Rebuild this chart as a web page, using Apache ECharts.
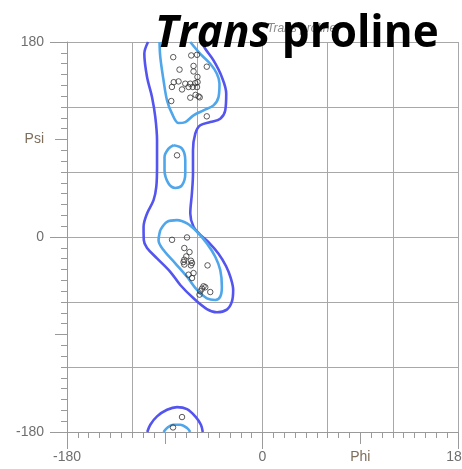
<!DOCTYPE html>
<html>
<head>
<meta charset="utf-8">
<script src="https://cdn.jsdelivr.net/npm/echarts@6/dist/echarts.min.js"></script>
<style>
  html, body { margin: 0; padding: 0; background: #fff; }
  #chart { width: 462px; height: 469px; }
</style>
</head>
<body>
<div id="chart"></div>
<script>
// Ramachandran plot for trans proline: observed (phi, psi) pairs and density contours

// Tick values carrying labels (other ticks are unlabeled minor ticks every 10 degrees)
var labeledTicks = [-180, -90, 0, 90, 180];
var phiTickLabels = ['-180', '', '0', 'Phi', '180'];
var psiTickLabels = ['-180', '', '0', 'Psi', '180'];

// Observed residues, [phi, psi] in degrees
var residues = [
  [-82.2, 166.0], [-65.6, 167.6], [-60.3, 168.2], [-63.5, 157.9], [-76.4, 154.5],
  [-63.5, 152.8], [-51.3, 157.2], [-59.9, 147.8], [-77.3, 143.6], [-81.7, 142.9],
  [-83.4, 138.5], [-74.1, 136.2], [-71.1, 141.5], [-66.5, 141.5], [-61.9, 142.0],
  [-59.8, 143.0], [-60.3, 138.4], [-68.1, 138.5], [-64.2, 138.5], [-66.5, 128.6],
  [-61.6, 131.2], [-58.9, 129.8], [-57.8, 128.9], [-84.0, 125.5], [-51.3, 111.4],
  [-78.7, 75.4],
  [-83.3, -2.6], [-69.5, -0.4], [-72.0, -10.2], [-67.2, -13.9], [-70.2, -17.9],
  [-72.0, -21.0], [-72.7, -23.1], [-72.0, -25.4], [-65.9, -21.9], [-64.9, -24.0],
  [-65.9, -26.2], [-50.6, -26.2], [-68.1, -34.8], [-63.5, -33.3], [-64.9, -37.9],
  [-52.7, -46.4], [-54.3, -45.5], [-55.7, -47.7], [-57.3, -50.1], [-58.0, -53.2],
  [-48.1, -50.8],
  [-74.1, -166.2], [-82.4, -175.8]
];

// Outer (allowed) contour: long band from psi = 180 down into the alpha region
var outerMain = [
  [-105.4, 180], [-108.8, 169.1], [-106.3, 147.6], [-101.7, 129.1], [-98.7, 110.7],
  [-97.1, 89.3], [-97.1, 64.7], [-97.8, 46.2], [-100.3, 34.0], [-106.3, 21.7],
  [-109.5, 9.4], [-109.3, -2.9], [-106.3, -10.2], [-97.1, -19.7], [-84.9, -32.1],
  [-75.7, -44.3], [-63.5, -56.6], [-51.2, -66.5], [-42.0, -69.5], [-32.8, -67.0],
  [-28.2, -59.7], [-27.0, -48.9], [-29.2, -38.0], [-33.5, -27.0], [-40.5, -15.5],
  [-49.5, -5.0], [-57.3, 2.0], [-63.5, 9.4], [-66.5, 21.7], [-65.0, 40.2],
  [-64.0, 58.6], [-64.0, 80.0], [-61.9, 95.4], [-57.3, 103.1], [-48.1, 106.1],
  [-38.9, 109.2], [-34.3, 116.9], [-33.4, 132.3], [-37.4, 147.6], [-45.1, 163.0],
  [-52.7, 173.7], [-56.0, 180]
];
// Outer contour wrapping round to psi = -180
var outerBottom = [
  [-106.1, -180], [-103.3, -173.3], [-97.1, -165.6], [-87.9, -159.5], [-78.7, -157.0],
  [-69.5, -158.8], [-61.9, -165.6], [-56.7, -173.3], [-55.0, -180]
];

// Inner (favoured) contours
var innerTop = [
  [-94.8, 180], [-94.1, 166.0], [-91.1, 144.5], [-87.9, 126.1], [-83.3, 113.9],
  [-77.3, 105.2], [-71.1, 106.1], [-63.5, 112.3], [-54.3, 116.9], [-45.1, 121.5],
  [-40.5, 129.1], [-39.6, 141.5], [-42.0, 150.7], [-48.1, 159.9], [-57.3, 169.1],
  [-66.5, 180]
];
var innerMiddle = [
  [-81.9, 84.7], [-74.1, 81.6], [-71.1, 70.8], [-71.1, 58.6], [-74.1, 47.8],
  [-80.3, 45.3], [-86.5, 49.4], [-90.2, 61.6], [-90.2, 73.9], [-86.5, 81.6],
  [-81.9, 84.7]
];
var innerLower = [
  [-94.1, 6.4], [-87.9, 14.0], [-78.7, 15.6], [-69.5, 12.5], [-60.3, 4.8],
  [-51.2, -5.9], [-43.5, -18.2], [-38.9, -30.5], [-37.4, -45.9], [-38.9, -55.1],
  [-43.5, -58.1], [-51.2, -56.6], [-60.3, -48.9], [-69.5, -36.7], [-80.3, -24.3],
  [-91.1, -12.1], [-95.7, -2.9], [-94.1, 6.4]
];
var innerBottom = [
  [-91.1, -180], [-87.9, -176.3], [-82.4, -173.3], [-75.7, -173.3], [-69.5, -176.3],
  [-66.5, -180]
];

var OUTER_COLOR = '#5454ef';
var INNER_COLOR = '#4fa6ea';
var GRID_COLOR = '#a8a8a8';
var TICK_COLOR = '#9a9a9a';

function labelFor(labels) {
  return function (v) {
    var i = labeledTicks.indexOf(Math.round(v));
    if (i < 0) return '';
    var t = labels[i];
    if (t === 'Phi' || t === 'Psi') return '{n|' + t + '}';
    return t;
  };
}

var labelRich = { n: { color: '#7e6e5c', fontSize: 14, fontFamily: 'Liberation Sans' } };

function axisSet(dim, labels) {
  var pos = dim === 'x' ? 'bottom' : 'left';
  var base = { type: 'value', min: -180, max: 180, position: pos, offset: 0 };
  return [
    // grid lines every 60 degrees
    Object.assign({}, base, {
      interval: 60,
      axisLine: { show: true, onZero: false, lineStyle: { color: TICK_COLOR, width: 1 } },
      axisTick: { show: false },
      axisLabel: { show: false },
      splitLine: { show: true, lineStyle: { color: GRID_COLOR, width: 1 } }
    }),
    // minor ticks every 10 degrees
    Object.assign({}, base, {
      interval: 10,
      axisLine: { show: false, onZero: false },
      axisTick: { show: true, length: 6, lineStyle: { color: TICK_COLOR } },
      axisLabel: { show: false },
      splitLine: { show: false }
    }),
    // labelled ticks every 90 degrees
    Object.assign({}, base, {
      interval: 90,
      axisLine: { show: false, onZero: false },
      axisTick: { show: true, length: 12, lineStyle: { color: TICK_COLOR } },
      axisLabel: {
        show: true, showMinLabel: true, showMaxLabel: true, hideOverlap: false,
        margin: dim === 'x' ? 18 : 23,
        color: '#6f6f6f', fontSize: 14, fontFamily: 'Liberation Sans',
        formatter: labelFor(labels), rich: labelRich
      },
      splitLine: { show: false }
    }),
    // long ticks at -180, 0 and 180
    Object.assign({}, base, {
      interval: 180,
      axisLine: { show: false, onZero: false },
      axisTick: { show: true, length: 17, lineStyle: { color: TICK_COLOR } },
      axisLabel: { show: false },
      splitLine: { show: false }
    })
  ];
}

function contour(data, color) {
  return {
    type: 'line', data: data, xAxisIndex: 0, yAxisIndex: 0,
    showSymbol: false, symbol: 'none', smooth: 0.35, silent: true,
    lineStyle: { color: color, width: 2.6 }, z: 2
  };
}

var chart = echarts.init(document.getElementById('chart'), null, { renderer: 'canvas' });
chart.setOption({
  animation: false,
  backgroundColor: '#ffffff',
  title: [
    {
      text: 'Trans proline', left: 262, top: 18,
      textStyle: { fontSize: 12, fontStyle: 'italic', fontWeight: 'normal', color: '#8a8a8a', fontFamily: 'Liberation Sans' },
      z: 5
    },
    {
      text: '{i|Trans} {b|proline}', left: 150, top: 7, z: 20,
      textStyle: {
        fontSize: 44, fontFamily: 'Open Sans', fontWeight: 'bold', color: '#000',
        rich: {
          i: { fontSize: 44, fontFamily: 'Open Sans', fontWeight: 'bold', fontStyle: 'italic', color: '#000' },
          b: { fontSize: 44, fontFamily: 'Open Sans', fontWeight: 'bold', color: '#000' }
        }
      }
    }
  ],
  grid: { left: 67, right: 4, top: 42, bottom: 37, containLabel: false, outerBoundsMode: 'none' },
  xAxis: axisSet('x', phiTickLabels),
  yAxis: axisSet('y', psiTickLabels),
  series: [
    contour(outerMain, OUTER_COLOR),
    contour(outerBottom, OUTER_COLOR),
    contour(innerTop, INNER_COLOR),
    contour(innerMiddle, INNER_COLOR),
    contour(innerLower, INNER_COLOR),
    contour(innerBottom, INNER_COLOR),
    {
      type: 'scatter', data: residues, xAxisIndex: 0, yAxisIndex: 0,
      symbol: 'circle', symbolSize: 5.5,
      itemStyle: { color: 'rgba(255,255,255,0)', borderColor: '#333333', borderWidth: 1 },
      z: 4
    }
  ]
});
</script>
</body>
</html>
